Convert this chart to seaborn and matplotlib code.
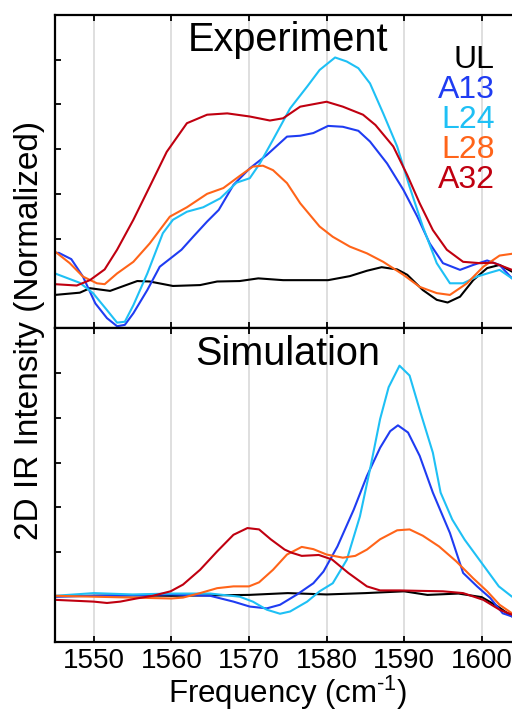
from matplotlib import pyplot as plt
import pandas as pd
import seaborn as sns

samples = ["UL", "A13", "L24", "L28", "A32"]
sample_colors = ["#000000", "#1f3cf2", "#1ec0f5", "#ff6419", "#c00010"]

# Experiment panel (frequency in cm-1, intensity in arbitrary normalized units)
exp_ul_x = [1545, 1548.2, 1549.5, 1552.1, 1555.6, 1557.2, 1560.2, 1563.7, 1565.9, 1568.8,
            1571.2, 1574.4, 1577.5, 1580.2, 1583, 1585.2, 1587.1, 1589.1, 1590.4, 1592.4,
            1594.2, 1595.6, 1597.2, 1598.9, 1600.7, 1602.3, 1603.9]
exp_ul_y = [0.74, 0.79, 0.89, 0.83, 1.05, 1.04, 0.94, 0.96, 1.04, 1.05,
            1.11, 1.07, 1.07, 1.07, 1.16, 1.28, 1.36, 1.31, 1.19, 0.85,
            0.63, 0.57, 0.70, 1.07, 1.34, 1.41, 1.26]

exp_a13_x = [1545, 1545.5, 1547.1, 1548.6, 1550.2, 1551.7, 1553, 1554, 1555.1, 1556.9,
             1558.5, 1560.2, 1561.3, 1562.8, 1564.6, 1566.1, 1568, 1570.1, 1572.3, 1574.9,
             1576.6, 1578.3, 1580.2, 1582.1, 1584.1, 1585.6, 1587.8, 1589.9, 1591.7, 1593.3,
             1595, 1597.2, 1598.9, 1600.7, 1602.3, 1603.9]
exp_a13_y = [1.68, 1.68, 1.54, 1.15, 0.55, 0.22, 0.04, 0.07, 0.33, 0.85,
             1.37, 1.60, 1.75, 2.04, 2.38, 2.64, 3.20, 3.57, 3.87, 4.28,
             4.30, 4.36, 4.52, 4.50, 4.41, 4.17, 3.68, 3.09, 2.49, 1.89,
             1.45, 1.30, 1.41, 1.51, 1.41, 1.11]

exp_l24_x = [1545, 1548.2, 1549.9, 1551.7, 1553, 1554, 1555.1, 1556.9, 1558.9, 1560.2,
             1562, 1564.1, 1566.3, 1568.4, 1570.1, 1571.4, 1573.1, 1575.3, 1577.5, 1579.1,
             1581.1, 1582.6, 1584.1, 1585.6, 1587.3, 1589.1, 1590.7, 1592.4, 1594.2, 1595.9,
             1597.6, 1599.4, 1601.1, 1602.3, 1603.9]
exp_l24_y = [1.22, 1.01, 0.78, 0.40, 0.12, 0.14, 0.51, 1.22, 2.12, 2.42,
             2.60, 2.70, 2.90, 3.25, 3.35, 3.68, 4.21, 4.91, 5.40, 5.77,
             6.05, 5.96, 5.81, 5.47, 4.80, 4.06, 3.16, 2.27, 1.45, 1.00,
             1.00, 1.15, 1.24, 1.30, 1.11]

exp_l28_x = [1545, 1546.9, 1548.6, 1550.4, 1551.4, 1553, 1555.1, 1557.2, 1559.8, 1562,
             1564.6, 1566.7, 1568.8, 1570.5, 1571.8, 1573.1, 1574.9, 1576.6, 1579.1, 1580.8,
             1583, 1585.2, 1587.3, 1589.9, 1592, 1594.2, 1595.9, 1598.1, 1600.2, 1602.3,
             1603.9]
exp_l28_y = [1.71, 1.45, 1.15, 1.00, 0.98, 1.22, 1.48, 1.89, 2.49, 2.70,
             3.00, 3.13, 3.40, 3.61, 3.63, 3.53, 3.24, 2.79, 2.27, 2.04,
             1.82, 1.67, 1.48, 1.19, 0.92, 0.78, 0.74, 1.00, 1.37, 1.62,
             1.66]

exp_a32_x = [1545, 1547.8, 1549.5, 1551.4, 1553, 1555.1, 1557.2, 1559.4, 1562, 1564.6,
             1567.2, 1570.1, 1572.7, 1574.4, 1576.6, 1580, 1582.1, 1584.7, 1586.3, 1588.6,
             1590.4, 1592, 1593.7, 1595.5, 1597.6, 1599.8, 1601.5, 1603.9]
exp_a32_y = [0.98, 0.95, 1.07, 1.31, 1.75, 2.42, 3.16, 3.94, 4.58, 4.77,
             4.80, 4.73, 4.64, 4.69, 4.95, 5.06, 4.95, 4.77, 4.54, 4.06,
             3.42, 2.79, 2.19, 1.75, 1.48, 1.45, 1.46, 1.30]

# Simulation panel
sim_ul_x = [1545, 1550, 1555, 1560, 1565, 1570, 1575, 1580, 1585, 1590,
            1593, 1597, 1600, 1602, 1603.9]
sim_ul_y = [1.02, 1.03, 1.04, 1.03, 1.04, 1.05, 1.09, 1.06, 1.09, 1.13,
            1.05, 1.08, 1.00, 0.80, 0.57]

sim_a13_x = [1545, 1550, 1560, 1565, 1568, 1570.1, 1572.3, 1574, 1576.2, 1578.3,
             1579.6, 1581.4, 1583.5, 1585.2, 1586.9, 1588.2, 1589.2, 1590.5, 1592, 1593.7,
             1595.9, 1597.6, 1599.4, 1601.1, 1602.7, 1603.9]
sim_a13_y = [1.01, 1.03, 1.06, 1.03, 0.90, 0.79, 0.75, 0.83, 1.06, 1.31,
             1.57, 2.13, 2.95, 3.70, 4.33, 4.70, 4.83, 4.67, 4.15, 3.33,
             2.43, 1.54, 1.24, 0.98, 0.64, 0.57]

sim_l24_x = [1545, 1550, 1555, 1560, 1565, 1568.8, 1570.5, 1572.3, 1574, 1575.3,
             1577.5, 1579.1, 1580.8, 1582.6, 1584.3, 1585.6, 1586.9, 1588, 1589.4, 1590.7,
             1592.1, 1593.7, 1594.7, 1596.2, 1597.8, 1600, 1602.2, 1603.9]
sim_l24_y = [1.03, 1.09, 1.06, 1.08, 1.08, 1.01, 0.90, 0.72, 0.63, 0.68,
             0.90, 1.13, 1.31, 1.83, 2.80, 3.85, 4.97, 5.68, 6.16, 5.94,
             5.12, 4.22, 3.33, 2.73, 2.28, 1.76, 1.24, 1.01]

sim_l28_x = [1545, 1550, 1555, 1560, 1561.5, 1563.7, 1565.9, 1568, 1570, 1571.3,
             1573.1, 1574.9, 1576.8, 1578.3, 1580, 1582.1, 1583.7, 1585.2, 1586.9, 1589.1,
             1590.7, 1592.4, 1594.5, 1596.7, 1598.9, 1600.7, 1602.3, 1603.9]
sim_l28_y = [1.03, 1.01, 0.99, 0.97, 0.99, 1.09, 1.20, 1.24, 1.24, 1.33,
             1.61, 1.95, 2.12, 2.07, 1.95, 1.88, 1.92, 2.06, 2.29, 2.49,
             2.51, 2.37, 2.13, 1.80, 1.42, 1.13, 0.83, 0.64]

sim_a32_x = [1545, 1550, 1551.7, 1553.4, 1555.5, 1557.6, 1559.9, 1561.5, 1563.7, 1565.9,
             1568, 1569.8, 1571.3, 1572.8, 1574.6, 1575.5, 1576.8, 1579, 1580.7, 1582.8,
             1585.2, 1586.9, 1589.4, 1592, 1595, 1597.6, 1600.2, 1602.3, 1603.9]
sim_a32_y = [0.94, 0.90, 0.87, 0.90, 0.97, 1.03, 1.13, 1.28, 1.61, 2.02,
             2.39, 2.54, 2.51, 2.29, 2.06, 1.99, 1.92, 1.94, 1.84, 1.54,
             1.24, 1.15, 1.15, 1.14, 1.13, 1.09, 0.94, 0.72, 0.61]

x_ticks = [1550, 1560, 1570, 1580, 1590, 1600]
y_ticks = [2, 3, 4, 5, 6]


def make_frame(xs, ys):
    parts = []
    for name, x, y in zip(samples, xs, ys):
        parts.append(pd.DataFrame({"freq": x, "intensity": y, "sample": name}))
    return pd.concat(parts, ignore_index=True)


exp_df = make_frame([exp_ul_x, exp_a13_x, exp_l24_x, exp_l28_x, exp_a32_x],
                    [exp_ul_y, exp_a13_y, exp_l24_y, exp_l28_y, exp_a32_y])
sim_df = make_frame([sim_ul_x, sim_a13_x, sim_l24_x, sim_l28_x, sim_a32_x],
                    [sim_ul_y, sim_a13_y, sim_l24_y, sim_l28_y, sim_a32_y])

sns.set_style("ticks", {"text.color": "black", "xtick.color": "black",
                        "ytick.color": "black", "axes.edgecolor": "black"})
plt.rcParams['font.family'] = ['Liberation Sans', 'DejaVu Sans']
plt.rcParams['mathtext.fontset'] = 'custom'
plt.rcParams['mathtext.rm'] = 'Liberation Sans'

fig = plt.figure(figsize=(5.12, 7.09), dpi=100)
left = 55 / 512
width = 1 - left
ax1 = fig.add_axes([left, 1 - 328 / 709, width, 313 / 709])
ax2 = fig.add_axes([left, 1 - 642 / 709, width, 314 / 709])

palette = dict(zip(samples, sample_colors))

for ax, df, title in [(ax1, exp_df, "Experiment"), (ax2, sim_df, "Simulation")]:
    for xt in x_ticks:
        ax.axvline(xt, color="#dcdcdc", lw=1.3, zorder=0)
    sns.lineplot(data=df, x="freq", y="intensity", hue="sample", palette=palette,
                 estimator=None, sort=False, legend=False, lw=1.5, ax=ax)
    ax.set_xlim(1545, 1603.9)
    ax.set_ylim(0, 7)
    ax.set_xticks(x_ticks)
    ax.set_yticks(y_ticks)
    ax.set_yticklabels([])
    ax.set_xlabel("")
    ax.set_ylabel("")
    ax.tick_params(direction="in", length=4.5, width=1.3, top=True, bottom=True,
                   labelsize=20, pad=4, colors="black")
    ax.spines["right"].set_visible(False)
    for s in ["left", "top", "bottom"]:
        ax.spines[s].set_linewidth(1.6)
        ax.spines[s].set_color("black")
    ax.text(1575, 6.43, title, fontsize=28.5, ha="center", va="center",
            color="black")

ax1.set_xticklabels([])

for i, (name, col) in enumerate(zip(samples, sample_colors)):
    ax1.text(1601.7, 6.0 - i * 0.67, name, color=col, fontsize=23,
             ha="right", va="center")

fig.text(30 / 512, 1 - 330 / 709, "2D IR Intensity (Normalized)", rotation=90,
         fontsize=24, ha="center", va="center", color="black")
fig.text(288 / 512, 1 - 703 / 709, r"Frequency (cm$^{\text{-1}}$)",
         fontsize=22.5, ha="center", va="baseline", color="black")

plt.savefig("out.png", dpi=100)
